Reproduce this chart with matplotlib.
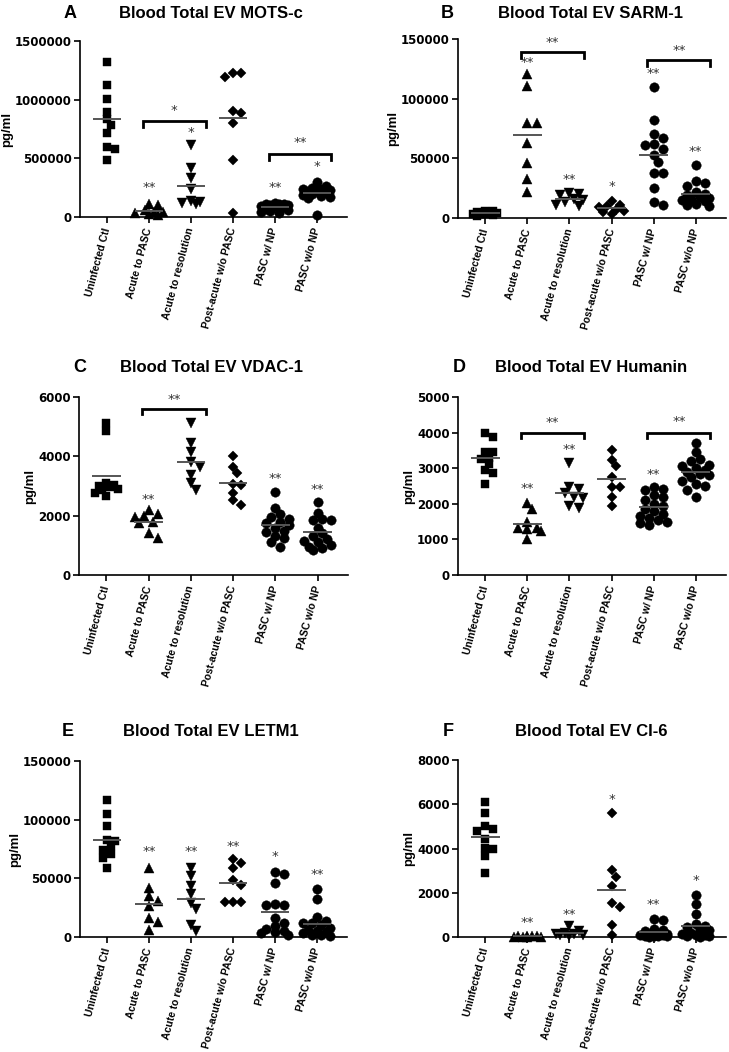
import matplotlib
matplotlib.use("Agg")
import matplotlib.pyplot as plt
import numpy as np

W, H = 729, 1052

categories = ["Uninfected Ctl", "Acute to PASC", "Acute to resolution",
              "Post-acute w/o PASC", "PASC w/ NP", "PASC w/o NP"]
markers = ['s', '^', 'v', 'D', 'o', 'o']
msizes = [6.0, 7.0, 7.0, 4.6, 6.8, 6.8]

titles = ["Blood Total EV MOTS-c", "Blood Total EV SARM-1", "Blood Total EV VDAC-1",
          "Blood Total EV Humanin", "Blood Total EV LETM1", "Blood Total EV CI-6"]
letters = ["A", "B", "C", "D", "E", "F"]

yticks_a = [0, 500000, 1000000, 1500000]
yticks_b = [0, 50000, 100000, 150000]
yticks_c = [0, 2000, 4000, 6000]
yticks_d = [0, 1000, 2000, 3000, 4000, 5000]
yticks_e = [0, 50000, 100000, 150000]
yticks_f = [0, 2000, 4000, 6000, 8000]

mots_c = [
    [1322000, 1121000, 1007000, 898000, 835000, 783000, 714000, 599000, 579000, 485000],
    [110000, 105000, 60000, 45000, 40000, 30000, 25000, 20000],
    [610000, 420000, 330000, 240000, 140000, 130000, 120000, 110000],
    [1230000, 1190000, 1225000, 900000, 890000, 800000, 490000, 30000],
    [120000, 115000, 110000, 110000, 105000, 100000, 95000, 90000, 85000, 80000,
     70000, 60000, 50000, 40000, 30000],
    [300000, 260000, 250000, 240000, 240000, 230000, 220000, 220000, 210000, 200000,
     190000, 180000, 170000, 160000, 20000],
]
sarm_1 = [
    [6000, 5500, 5000, 4500, 4000, 3500, 3000, 3000, 2500, 2000],
    [120700, 110300, 79600, 79600, 62800, 46000, 33000, 21800],
    [21000, 20000, 19000, 16000, 15000, 13000, 11000, 10000],
    [14500, 11000, 10000, 9000, 7000, 6000, 5000, 3000],
    [110000, 82000, 70000, 67000, 62000, 58000, 61000, 53000, 47000, 38000, 38000,
     25000, 11000, 13000],
    [44000, 31000, 29000, 27000, 22000, 20000, 19000, 18000, 17000, 16000, 15000,
     14000, 12000, 11000, 10000],
]
vdac_1 = [
    [5120, 4870, 3100, 3050, 3000, 2950, 2900, 2850, 2750, 2650],
    [2180, 2050, 1980, 1950, 1800, 1750, 1400, 1250],
    [5140, 4460, 4130, 3820, 3630, 3370, 3110, 2880],
    [4010, 3630, 3450, 3070, 3050, 2750, 2520, 2350],
    [2800, 2250, 2050, 1950, 1900, 1800, 1750, 1700, 1600, 1500, 1450, 1300, 1250,
     1100, 950],
    [2450, 2100, 1900, 1850, 1850, 1600, 1400, 1300, 1200, 1150, 1100, 1000, 950,
     900, 850],
]
humanin = [
    [4000, 3880, 3450, 3450, 3300, 3250, 3120, 2950, 2870, 2550],
    [2010, 1840, 1480, 1330, 1320, 1280, 1250, 1010],
    [3150, 2480, 2420, 2300, 2200, 2150, 1950, 1880],
    [3500, 3220, 3050, 2740, 2480, 2460, 2180, 1940],
    [2480, 2420, 2400, 2250, 2200, 2100, 2000, 1950, 1850, 1800, 1700, 1650, 1600,
     1550, 1500, 1450, 1400],
    [3700, 3450, 3250, 3200, 3100, 3050, 3000, 2950, 2900, 2850, 2800, 2750, 2650,
     2550, 2500, 2400, 2200],
]
letm1 = [
    [117000, 105000, 94500, 82500, 82000, 77500, 74000, 70500, 67500, 59000],
    [59000, 42000, 35000, 31000, 26000, 16000, 13000, 6000],
    [59000, 52000, 43500, 36500, 29000, 23500, 10000, 5000],
    [66900, 63200, 59200, 48400, 44100, 29900, 29900, 29900],
    [55000, 54000, 46000, 28000, 27000, 27000, 16000, 12000, 9000, 7000, 5000, 4000,
     3000, 1500],
    [41000, 32000, 17000, 14000, 12000, 12000, 10000, 8000, 6000, 5000, 4000, 3000,
     2000, 1500, 1000],
]
ci_6 = [
    [6115, 5620, 5020, 4860, 4800, 4410, 4040, 3980, 3660, 2880],
    [50, 40, 30, 30, 20, 20, 10, 5],
    [500, 250, 200, 150, 120, 100, 80, 60],
    [5590, 3030, 2730, 2300, 1520, 1340, 540, 90],
    [800, 780, 350, 300, 250, 200, 150, 120, 100, 80, 60, 50, 40, 30, 20],
    [1880, 1500, 1050, 600, 500, 450, 350, 300, 200, 150, 100, 80, 60, 40, 20],
]

# significance marks above groups: (group, y, text)
stars_a = [(1, 250000, "**"), (2, 720000, "*"), (4, 250000, "**"), (5, 430000, "*")]
stars_b = [(1, 130000, "**"), (2, 32000, "**"), (3, 26500, "*"), (4, 121000, "**"), (5, 56000, "**")]
stars_c = [(1, 2540, "**"), (4, 3250, "**"), (5, 2880, "**")]
stars_d = [(1, 2430, "**"), (2, 3520, "**"), (4, 2830, "**")]
stars_e = [(1, 72600, "**"), (2, 72600, "**"), (3, 77400, "**"), (4, 68300, "*"), (5, 53500, "**")]
stars_f = [(1, 650, "**"), (2, 1020, "**"), (3, 6220, "*"), (4, 1450, "**"), (5, 2575, "*")]

# comparison brackets: (from group, to group, y, label y, text)
brackets_a = [(1, 2, 815000, 905000, "*"), (4, 5, 533000, 634000, "**")]
brackets_b = [(1, 2, 138800, 147000, "**"), (4, 5, 132000, 140500, "**")]
brackets_c = [(1, 2, 5610, 5910, "**")]
brackets_d = [(1, 2, 3990, 4280, "**"), (4, 5, 3990, 4300, "**")]
brackets_e = []
brackets_f = []

panels = [
    (mots_c, yticks_a, stars_a, brackets_a, (80, 347, 41, 217), (70, 211, 13)),
    (sarm_1, yticks_b, stars_b, brackets_b, (458, 726, 39, 218), (447, 590, 13)),
    (vdac_1, yticks_c, stars_c, brackets_c, (79, 348, 397, 575), (80, 212, 368)),
    (humanin, yticks_d, stars_d, brackets_d, (458, 726, 397, 575), (459, 591, 368)),
    (letm1, yticks_e, stars_e, brackets_e, (80, 347, 761, 937), (68, 211, 732)),
    (ci_6, yticks_f, stars_f, brackets_f, (458, 726, 760, 937), (448, 591, 732)),
]

XMIN, XMAX = -0.65, 5.72


def swarm(vals, ypx_per_unit, xpx_per_cat, diam):
    vals = np.asarray(vals, float)
    ypx = vals * ypx_per_unit
    order = np.argsort(-vals)
    step = diam * 0.5
    maxoff = 0.36 * xpx_per_cat
    cands = [0.0]
    for k in range(1, 12):
        cands += [k * step, -k * step]
    cands = [c for c in cands if abs(c) <= maxoff]
    placed = []
    offs = np.zeros(len(vals))
    for i in order:
        best, bestd = 0.0, -1
        chosen = None
        for c in cands:
            if placed:
                d = min(np.hypot(c - px, ypx[i] - py) for px, py in placed)
            else:
                d = np.inf
            if d >= diam * 0.8:
                chosen = c
                break
            if d > bestd:
                bestd, best = d, c
        if chosen is None:
            chosen = best
        offs[i] = chosen
        placed.append((chosen, ypx[i]))
    return offs / xpx_per_cat


fig = plt.figure(figsize=(W / 100, H / 100), dpi=100)
tick_font = dict(family="DejaVu Sans", weight="bold", size=8.5)

for k, (data, yt, stars, brackets, (x0, x1, yt_px, yb_px), (lx, tx, ty)) in enumerate(panels):
    ax = fig.add_axes([x0 / W, 1 - yb_px / H, (x1 - x0) / W, (yb_px - yt_px) / H])
    ymax = yt[-1]
    ax.set_xlim(XMIN, XMAX)
    ax.set_ylim(0, ymax)
    ypu = (yb_px - yt_px) / ymax
    xpc = (x1 - x0) / (XMAX - XMIN)
    for g, vals in enumerate(data):
        diam = msizes[g] * 100 / 72 * (1.3 if markers[g] == 'D' else 0.95)
        offs = swarm(vals, ypu, xpc, diam)
        ax.plot(g + offs, vals, linestyle='none', marker=markers[g], ms=msizes[g],
                color='black', mec='black', mew=0.3, clip_on=False, zorder=3)
        m = np.mean(vals)
        ax.plot([g - 0.34, g + 0.34], [m, m], color='#555555', lw=1.4,
                solid_capstyle='butt', zorder=4)
    for g, y, s in stars:
        ax.text(g, y, s, ha='center', va='center', fontsize=9.5,
                family='DejaVu Sans', color='#333333', zorder=5)
    tick_len = 5.5 / ypu
    for g0, g1, y, ly, s in brackets:
        xa, xb = g0 - 0.15, g1 + 0.35
        ax.plot([xa, xa, xb, xb], [y - tick_len, y, y, y - tick_len], color='black',
                lw=2.0, solid_joinstyle='miter', clip_on=False, zorder=5)
        ax.text((xa + xb) / 2, ly, s, ha='center', va='center', fontsize=9.5,
                family='DejaVu Sans', color='#333333', zorder=5)
    for side in ('top', 'right'):
        ax.spines[side].set_visible(False)
    for side in ('left', 'bottom'):
        ax.spines[side].set_linewidth(1.2)
    ax.set_yticks(yt)
    ax.set_yticklabels([str(v) for v in yt], fontdict=tick_font)
    ax.set_xticks(range(len(categories)))
    ax.set_xticklabels(categories, rotation=75, ha='right', va='center',
                       rotation_mode='anchor',
                       fontdict=dict(family="Liberation Sans", weight="bold", size=7.5))
    ax.tick_params(axis='both', length=4, width=1.2, direction='out', pad=2)
    ax.tick_params(axis='x', pad=4)
    ax.set_ylabel("pg/ml", family="Liberation Sans", weight="bold", fontsize=9.5, labelpad=1)
    fig.text(lx / W, 1 - ty / H, letters[k], ha='center', va='center',
             family="Liberation Sans", weight="bold", fontsize=13)
    fig.text(tx / W, 1 - ty / H, titles[k], ha='center', va='center',
             family="Liberation Sans", weight="bold", fontsize=12)

fig.savefig("out.png", dpi=100, facecolor='white')
